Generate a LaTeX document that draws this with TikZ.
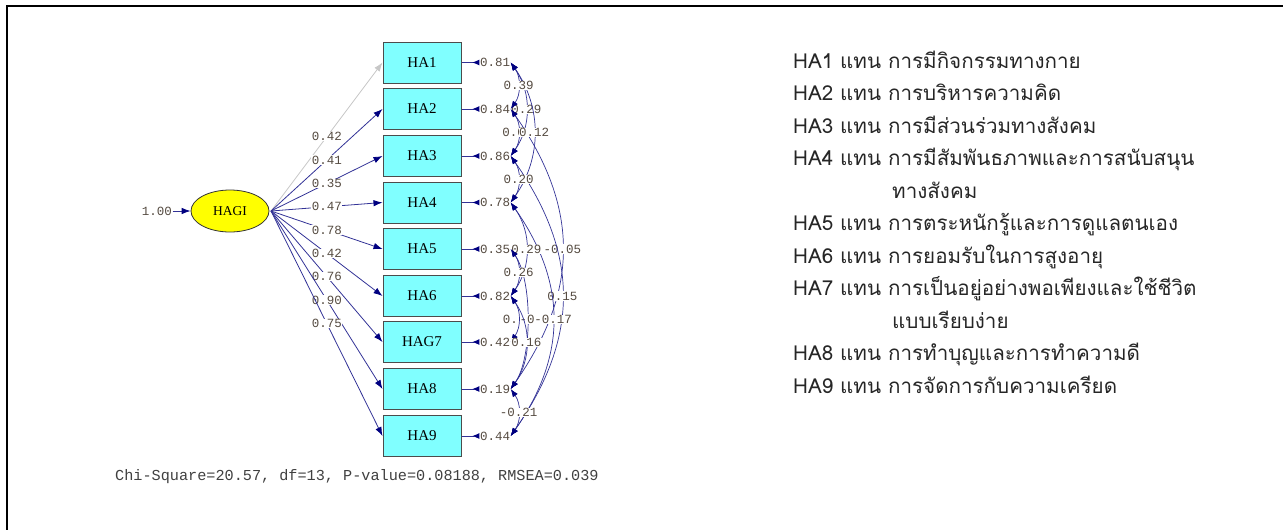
\documentclass[tikz,border=0pt]{standalone}
\usepackage{fontspec}
\setmainfont{Liberation Serif}
\newfontfamily\monofont{Liberation Mono}
\newfontfamily\thaifont[Script=Thai]{Loma}
\usetikzlibrary{arrows.meta,shapes.geometric}

\definecolor{obscyan}{RGB}{128,255,255}
\definecolor{latyellow}{RGB}{255,255,0}
\definecolor{pathblue}{RGB}{50,50,150}
\definecolor{tipblue}{RGB}{0,0,128}
\definecolor{numgray}{RGB}{85,75,65}

\tikzset{
  obs/.style={draw=black!70, line width=1pt, fill=obscyan, minimum width=78pt,
    minimum height=41pt, inner sep=0pt, font=\fontsize{15}{15}\selectfont},
  lat/.style={ellipse, draw=black!80, line width=0.8pt, fill=latyellow, minimum width=78pt,
    minimum height=42pt, inner sep=0pt, font=\fontsize{13.5}{13.5}\selectfont},
  num/.style={font=\monofont\fontsize{12.5}{12.5}\selectfont, text=numgray,
    fill=white, inner sep=0.5pt},
  load/.style={pathblue, line width=0.8pt, -{Latex[length=9pt,width=6.5pt,color=tipblue]}},
  fixed/.style={black!22, line width=0.8pt, -{Latex[length=9pt,width=6.5pt]}},
  errtip/.style={pathblue, line width=0.9pt,
    -{Latex[reversed,length=7pt,width=6pt,color=tipblue]}},
  cov/.style={pathblue, line width=0.7pt, out=-55, in=55,
    {Latex[length=8pt,width=6pt,color=tipblue]}-{Latex[length=8pt,width=6pt,color=tipblue]}},
  legend/.style={font=\thaifont\fontsize{20.6}{20.6}\selectfont, text=black!85,
    anchor=base west, inner sep=0pt}
}

\begin{document}
\begin{tikzpicture}[x=1pt, y=-1pt]
  \useasboundingbox (0,0) rectangle (1283,530);
  % frame
  \draw[line width=2pt] (7,530) -- (7,6) -- (1283,6);

  % latent factor
  \node[lat] (hagi) at (230,211) {HAGI};
  \node[num, fill=none] (v) at (157,211) {1.00};
  \draw[load] (v) -- (hagi);
  \coordinate (src) at (271,211);

  % indicators
  \node[obs] (b1) at (422,62.5) {HA1};
  \node[obs] (b2) at (422,109) {HA2};
  \node[obs] (b3) at (422,156) {HA3};
  \node[obs] (b4) at (422,202.5) {HA4};
  \node[obs] (b5) at (422,249) {HA5};
  \node[obs] (b6) at (422,296) {HA6};
  \node[obs] (b7) at (422,342) {HAG7};
  \node[obs] (b8) at (422,389) {HA8};
  \node[obs] (b9) at (422,436) {HA9};

  % loadings
  \draw[fixed] (src) -- node[num, pos=0.5] {0.42} (b1.west);
  \draw[load] (src) -- node[num, pos=0.5] {0.41} (b2.west);
  \draw[load] (src) -- node[num, pos=0.5] {0.35} (b3.west);
  \draw[load] (src) -- node[num, pos=0.5] {0.47} (b4.west);
  \draw[load] (src) -- node[num, pos=0.5] {0.78} (b5.west);
  \draw[load] (src) -- node[num, pos=0.5] {0.42} (b6.west);
  \draw[load] (src) -- node[num, pos=0.5] {0.76} (b7.west);
  \draw[load] (src) -- node[num, pos=0.5] {0.90} (b8.west);
  \draw[load] (src) -- node[num, pos=0.5] {0.75} (b9.west);

  % error variances
  \node[num] (e1) at (495,62.5) {0.81};
  \node[num] (e2) at (495,109) {0.84};
  \node[num] (e3) at (495,156) {0.86};
  \node[num] (e4) at (495,202.5) {0.78};
  \node[num] (e5) at (495,249) {0.35};
  \node[num] (e6) at (495,296) {0.82};
  \node[num] (e7) at (495,342) {0.42};
  \node[num] (e8) at (495,389) {0.19};
  \node[num] (e9) at (495,436) {0.44};
  \draw[errtip] (b1.east) -- (e1.west);
  \draw[errtip] (b2.east) -- (e2.west);
  \draw[errtip] (b3.east) -- (e3.west);
  \draw[errtip] (b4.east) -- (e4.west);
  \draw[errtip] (b5.east) -- (e5.west);
  \draw[errtip] (b6.east) -- (e6.west);
  \draw[errtip] (b7.east) -- (e7.west);
  \draw[errtip] (b8.east) -- (e8.west);
  \draw[errtip] (b9.east) -- (e9.west);

  % error covariances
  \draw[cov, looseness=1.1] (e2.east) to node[num] {-0.05} (e8.east);
  \draw[cov, looseness=1.1] (e3.east) to node[num] {0.15} (e9.east);
  \draw[cov, looseness=0.7] (e5.east) to node[num] {-0} (e8.east);
  \draw[cov, looseness=1.08] (e4.east) to node[num] {-0.17} (e9.east);
  \draw[cov] (e6.east) to node[num, xshift=-8pt] {0.} (e7.east);
  \draw[cov] (e1.east) to node[num] {0.29} (e3.east);
  \draw[cov] (e4.east) to node[num] {0.29} (e6.east);
  \draw[cov] (e6.east) to node[num] {0.16} (e8.east);
  \draw[cov] (e2.east) to node[num, xshift=-5pt] {0.0} (e3.east);
  \draw[cov] (e1.east) to node[num] {0.12} (e4.east);
  \draw[cov] (e1.east) to node[num] {0.39} (e2.east);
  \draw[cov] (e3.east) to node[num] {0.20} (e4.east);
  \draw[cov] (e5.east) to node[num] {0.26} (e6.east);
  \draw[cov] (e8.east) to node[num] {-0.21} (e9.east);

  % fit statistics
  \node[font=\monofont\fontsize{15.2}{15.2}\selectfont, text=black!75, anchor=base west,
    inner sep=0pt] (fit) at (115,480) {Chi-Square=20.57, df=13, P-value=0.08188, RMSEA=0.039};

  % legend
  \node[legend] (l1) at (793,68) {HA1 แทน การมีกิจกรรมทางกาย};
  \node[legend] (l2) at (793,100.5) {HA2 แทน การบริหารความคิด};
  \node[legend] (l3) at (793,133) {HA3 แทน การมีส่วนร่วมทางสังคม};
  \node[legend] (l4) at (793,165.5) {HA4 แทน การมีสัมพันธภาพและการสนับสนุน};
  \node[legend] (l4b) at (892,198) {ทางสังคม};
  \node[legend] (l5) at (793,230.5) {HA5 แทน การตระหนักรู้และการดูแลตนเอง};
  \node[legend] (l6) at (793,263) {HA6 แทน การยอมรับในการสูงอายุ};
  \node[legend] (l7) at (793,295.5) {HA7 แทน การเป็นอยู่อย่างพอเพียงและใช้ชีวิต};
  \node[legend] (l7b) at (892,328) {แบบเรียบง่าย};
  \node[legend] (l8) at (793,360.5) {HA8 แทน การทำบุญและการทำความดี};
  \node[legend] (l9) at (793,393) {HA9 แทน การจัดการกับความเครียด};
\end{tikzpicture}
\end{document}
